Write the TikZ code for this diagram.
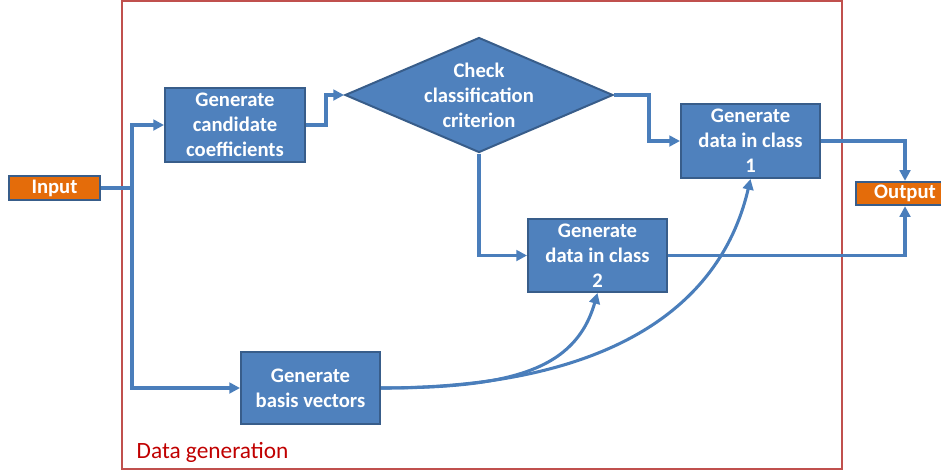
\documentclass[tikz,border=0pt]{standalone}
\usepackage{fontspec}
\setmainfont{Carlito}
\usetikzlibrary{arrows.meta,shapes.geometric}
\definecolor{boxfill}{HTML}{4F81BD}
\definecolor{boxedge}{HTML}{385D8A}
\definecolor{linkblue}{HTML}{4A7EBB}
\definecolor{ioorange}{HTML}{E46C0A}
\definecolor{frame}{HTML}{C0504D}
\definecolor{grouplabel}{HTML}{C00000}
\begin{document}
\begin{tikzpicture}[x=0.75pt,y=-0.75pt,
  stepbox/.style={draw=boxedge,fill=boxfill,line width=1.5pt,rectangle,
    inner sep=0pt,text=white,align=center,
    font=\fontsize{15.5}{18.75}\selectfont\bfseries},
  iobox/.style={stepbox,fill=ioorange},
  link/.style={draw=linkblue,line width=2.3pt},
  arr/.style={link,-{Triangle[length=8pt,width=8pt]}}]
\useasboundingbox (0,0) rectangle (941,472);
% group frame
\draw[frame,line width=1.5pt] (122,1) rectangle (842,469);
\node[anchor=base west,text=grouplabel,font=\fontsize{17.5}{20}\selectfont] (grp) at (132,458) {Data generation};
% process boxes
\node[iobox,minimum width=68.25pt,minimum height=18pt] (inp) at (54.5,188) {Input};
\node[iobox,minimum width=73.5pt,minimum height=17.5pt] (out) at (905,193.5) {Output};
\node[stepbox,minimum width=105pt,minimum height=55.5pt] (cand) at (235,125) {Generate\\candidate\\coefficients};
\node[stepbox,minimum width=104.25pt,minimum height=55.5pt] (cls1) at (750.5,141) {Generate\\data in class\\1};
\node[stepbox,minimum width=104.25pt,minimum height=54.75pt] (cls2) at (597.5,255.5) {Generate\\data in class\\2};
\node[stepbox,minimum width=104.25pt,minimum height=54pt] (basis) at (310.5,388) {Generate\\basis vectors};
% decision
\node[diamond,draw=boxedge,fill=boxfill,line width=1.5pt,inner sep=0pt,
  minimum width=201pt,minimum height=86.25pt] (chk) at (479,95) {};
\node[text=white,align=center,font=\fontsize{15.5}{18.75}\selectfont\bfseries] (chktxt) at (479,95.5) {Check\\classification\\criterion};
% connectors
\coordinate (jn) at (132,188);
\draw[link] (inp.east) -- (jn);
\draw[arr] (jn) |- (cand.west);
\draw[arr] (jn) |- (basis.west);
\draw[arr] (cand.east) -- ++(20,0) |- (chk.west);
\draw[arr] (chk.east) -- ++(35,0) |- (cls1.west);
\draw[arr] (chk.south) |- (cls2.west);
\draw[arr] (cls1.east) -| (out.north);
\draw[arr] (cls2.east) -| (out.south);
\draw[arr] (basis.east) .. controls +(130,0) and +(-22,77) .. (cls2.south);
\draw[arr] (basis.east) .. controls +(200,0) and +(-34,146) .. (cls1.south);
\end{tikzpicture}
\end{document}
